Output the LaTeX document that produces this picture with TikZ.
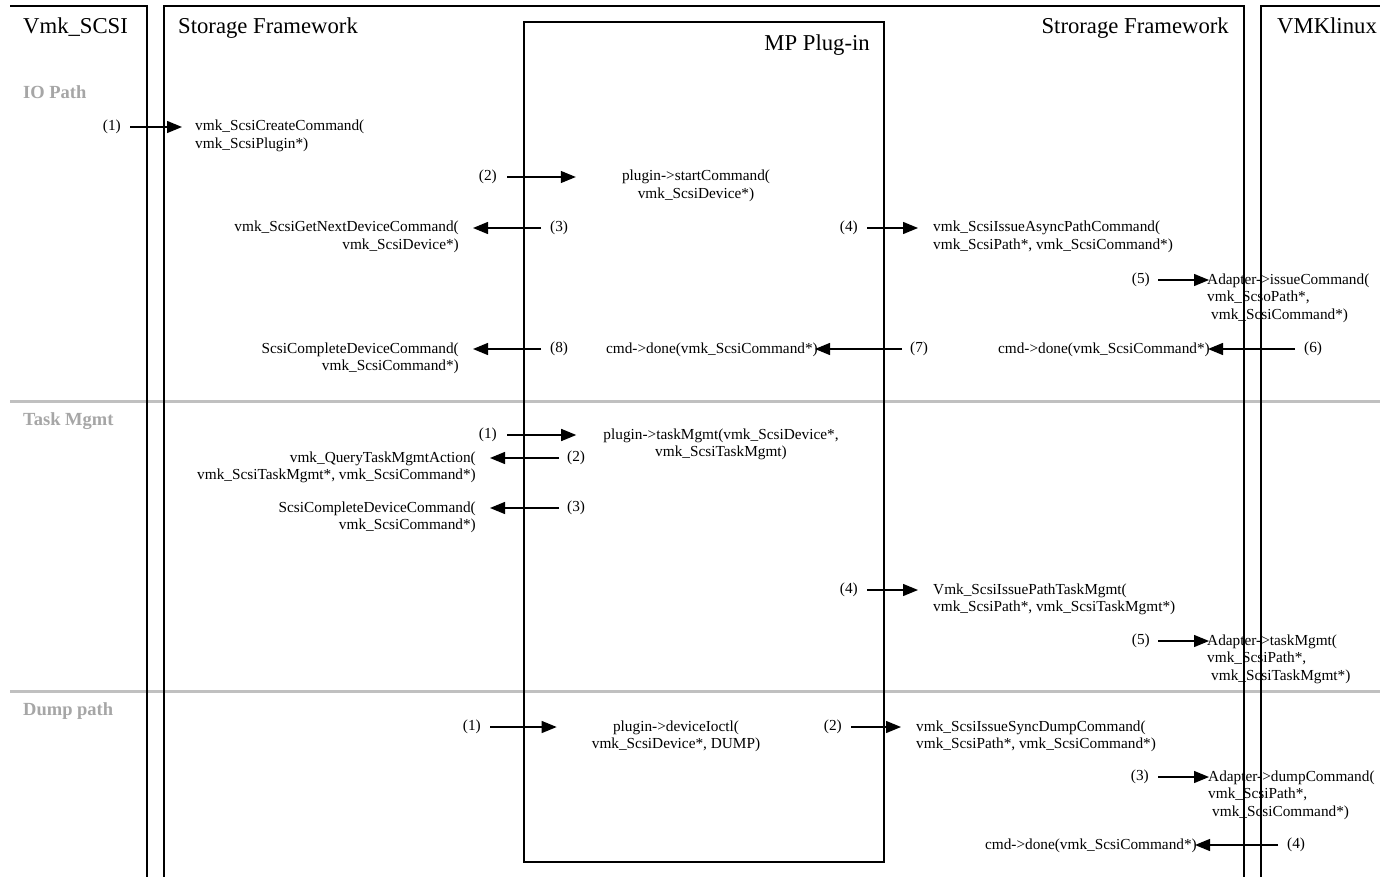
\documentclass[tikz,border=0pt]{standalone}
\usepackage{fontspec}
\setmainfont{Liberation Serif}
\usetikzlibrary{arrows.meta}
\definecolor{sepgray}{HTML}{C0C0C0}
\definecolor{labgray}{HTML}{A6A6A6}
% multi-line label whose baseline is that of its first line
\newcommand\ltab[2]{\begin{tabular}[t]{@{}#1@{}}#2\end{tabular}}

\begin{document}
\begin{tikzpicture}[x=1pt,y=-1pt,
  frame/.style={line width=1.4pt},
  sepline/.style={line width=3pt,color=sepgray},
  head/.style={font=\fontsize{22.7}{26}\selectfont,inner sep=0pt},
  phase/.style={font=\fontsize{18.5}{22}\selectfont\bfseries,text=labgray,inner sep=0pt},
  call/.style={font=\fontsize{15.3}{17.5}\selectfont,inner sep=0pt},
  num/.style={font=\fontsize{15.3}{17.5}\selectfont,inner sep=0pt},
  msg/.style={line width=1.3pt,-{Triangle[length=15pt,width=12pt]}},
]
\fill[white] (0,0) rectangle (1380,877);
\useasboundingbox (0,0) rectangle (1380,877);

% phase separators
\draw[sepline] (10,401) -- (1380,401);
\draw[sepline] (10,691) -- (1380,691);

% swim lanes
\draw[frame] (10,6) -- (147,6) -- (147,877);
\draw[frame] (164,877) -- (164,6) -- (1244,6) -- (1244,877);
\draw[frame] (1261,877) -- (1261,6) -- (1380,6);
\draw[frame] (524,22) rectangle (884,862);

% lane titles
\node[head,anchor=base west] (hscsi) at (23,34) {Vmk\_SCSI};
\node[head,anchor=base west] (hsfl) at (178,34) {Storage Framework};
\node[head,anchor=base east] (hsfr) at (1229,34) {Strorage Framework};
\node[head,anchor=base west] (hlin) at (1277,34) {VMKlinux};
\node[head,anchor=base east] (hmp) at (870,51) {MP Plug-in};

% phase titles
\node[phase,anchor=base west] (pio) at (23,99) {IO Path};
\node[phase,anchor=base west] (ptm) at (23,425) {Task Mgmt};
\node[phase,anchor=base west] (pdp) at (23,715) {Dump path};

% ---------------- IO path ----------------
\node[call,anchor=base west] (io1t) at (195,131) {\ltab{l}{vmk\_ScsiCreateCommand(\\vmk\_ScsiPlugin*)}};
\node[num,anchor=east] (io1n) at (121,127) {(1)};
\draw[msg,shorten <=9pt,shorten >=13pt] (io1n.east) -- (io1n.east -| io1t.west);

\node[call,anchor=base] (io2t) at (696,181) {\ltab{c}{plugin->startCommand(\\vmk\_ScsiDevice*)}};
\node[num,anchor=east] (io2n) at (497,177) {(2)};
\draw[msg,shorten <=10pt,shorten >=46pt] (io2n.east) -- (io2n.east -| io2t.west);

\node[call,anchor=base east] (io3t) at (459,232) {\ltab{r}{vmk\_ScsiGetNextDeviceCommand(\\vmk\_ScsiDevice*)}};
\node[num,anchor=west] (io3n) at (550,228) {(3)};
\draw[msg,shorten <=9pt,shorten >=14pt] (io3n.west) -- (io3n.west -| io3t.east);

\node[call,anchor=base west] (io4t) at (933,232) {\ltab{l}{vmk\_ScsiIssueAsyncPathCommand(\\vmk\_ScsiPath*, vmk\_ScsiCommand*)}};
\node[num,anchor=east] (io4n) at (858,228) {(4)};
\draw[msg,shorten <=9pt,shorten >=15pt] (io4n.east) -- (io4n.east -| io4t.west);

\node[call,anchor=base west] (io5t) at (1207,284) {\ltab{l}{Adapter->issueCommand(\\vmk\_ScsoPath*,\\\hspace{4pt}vmk\_ScsiCommand*)}};
\node[num,anchor=east] (io5n) at (1150,280) {(5)};
\draw[msg,shorten <=8pt,shorten >=-2pt] (io5n.east) -- (io5n.east -| io5t.west);

\node[call,anchor=base east] (io6t) at (1210,353) {cmd->done(vmk\_ScsiCommand*)};
\node[num,anchor=west] (io6n) at (1304,349) {(6)};
\draw[msg,shorten <=9pt,shorten >=-2pt] (io6n.west) -- (io6n.west -| io6t.east);

\node[call,anchor=base east] (io7t) at (818,353) {cmd->done(vmk\_ScsiCommand*)};
\node[num,anchor=west] (io7n) at (910,349) {(7)};
\draw[msg,shorten <=8pt,shorten >=-3pt] (io7n.west) -- (io7n.west -| io7t.east);

\node[call,anchor=base east] (io8t) at (459,353) {\ltab{r}{ScsiCompleteDeviceCommand(\\vmk\_ScsiCommand*)}};
\node[num,anchor=west] (io8n) at (550,349) {(8)};
\draw[msg,shorten <=9pt,shorten >=14pt] (io8n.west) -- (io8n.west -| io8t.east);

% ---------------- Task management ----------------
\node[call,anchor=base] (tm1t) at (721,439) {\ltab{c}{plugin->taskMgmt(vmk\_ScsiDevice*,\\vmk\_ScsiTaskMgmt)}};
\node[num,anchor=east] (tm1n) at (497,435) {(1)};
\draw[msg,shorten <=10pt,shorten >=27pt] (tm1n.east) -- (tm1n.east -| tm1t.west);

\node[call,anchor=base east] (tm2t) at (476,462) {\ltab{r}{vmk\_QueryTaskMgmtAction(\\vmk\_ScsiTaskMgmt*, vmk\_ScsiCommand*)}};
\node[num,anchor=west] (tm2n) at (567,458) {(2)};
\draw[msg,shorten <=8pt,shorten >=14pt] (tm2n.west) -- (tm2n.west -| tm2t.east);

\node[call,anchor=base east] (tm3t) at (476,512) {\ltab{r}{ScsiCompleteDeviceCommand(\\vmk\_ScsiCommand*)}};
\node[num,anchor=west] (tm3n) at (567,508) {(3)};
\draw[msg,shorten <=8pt,shorten >=14pt] (tm3n.west) -- (tm3n.west -| tm3t.east);

\node[call,anchor=base west] (tm4t) at (933,594) {\ltab{l}{Vmk\_ScsiIssuePathTaskMgmt(\\vmk\_ScsiPath*, vmk\_ScsiTaskMgmt*)}};
\node[num,anchor=east] (tm4n) at (858,590) {(4)};
\draw[msg,shorten <=9pt,shorten >=15pt] (tm4n.east) -- (tm4n.east -| tm4t.west);

\node[call,anchor=base west] (tm5t) at (1207,645) {\ltab{l}{Adapter->taskMgmt(\\vmk\_ScsiPath*,\\\hspace{4pt}vmk\_ScsiTaskMgmt*)}};
\node[num,anchor=east] (tm5n) at (1150,641) {(5)};
\draw[msg,shorten <=8pt,shorten >=-2pt] (tm5n.east) -- (tm5n.east -| tm5t.west);

% ---------------- Dump path ----------------
\node[call,anchor=base] (dp1t) at (676,731) {\ltab{c}{plugin->deviceIoctl(\\vmk\_ScsiDevice*, DUMP)}};
\node[num,anchor=east] (dp1n) at (481,727) {(1)};
\draw[msg,shorten <=9pt,shorten >=35pt] (dp1n.east) -- (dp1n.east -| dp1t.west);

\node[call,anchor=base west] (dp2t) at (916,731) {\ltab{l}{vmk\_ScsiIssueSyncDumpCommand(\\vmk\_ScsiPath*, vmk\_ScsiCommand*)}};
\node[num,anchor=east] (dp2n) at (842,727) {(2)};
\draw[msg,shorten <=9pt,shorten >=15pt] (dp2n.east) -- (dp2n.east -| dp2t.west);

\node[call,anchor=base west] (dp3t) at (1208,781) {\ltab{l}{Adapter->dumpCommand(\\vmk\_ScsiPath*,\\\hspace{4pt}vmk\_ScsiCommand*)}};
\node[num,anchor=east] (dp3n) at (1149,777) {(3)};
\draw[msg,shorten <=9pt,shorten >=-1pt] (dp3n.east) -- (dp3n.east -| dp3t.west);

\node[call,anchor=base east] (dp4t) at (1197,849) {cmd->done(vmk\_ScsiCommand*)};
\node[num,anchor=west] (dp4n) at (1287,845) {(4)};
\draw[msg,shorten <=9pt,shorten >=-2pt] (dp4n.west) -- (dp4n.west -| dp4t.east);
\end{tikzpicture}
\end{document}
